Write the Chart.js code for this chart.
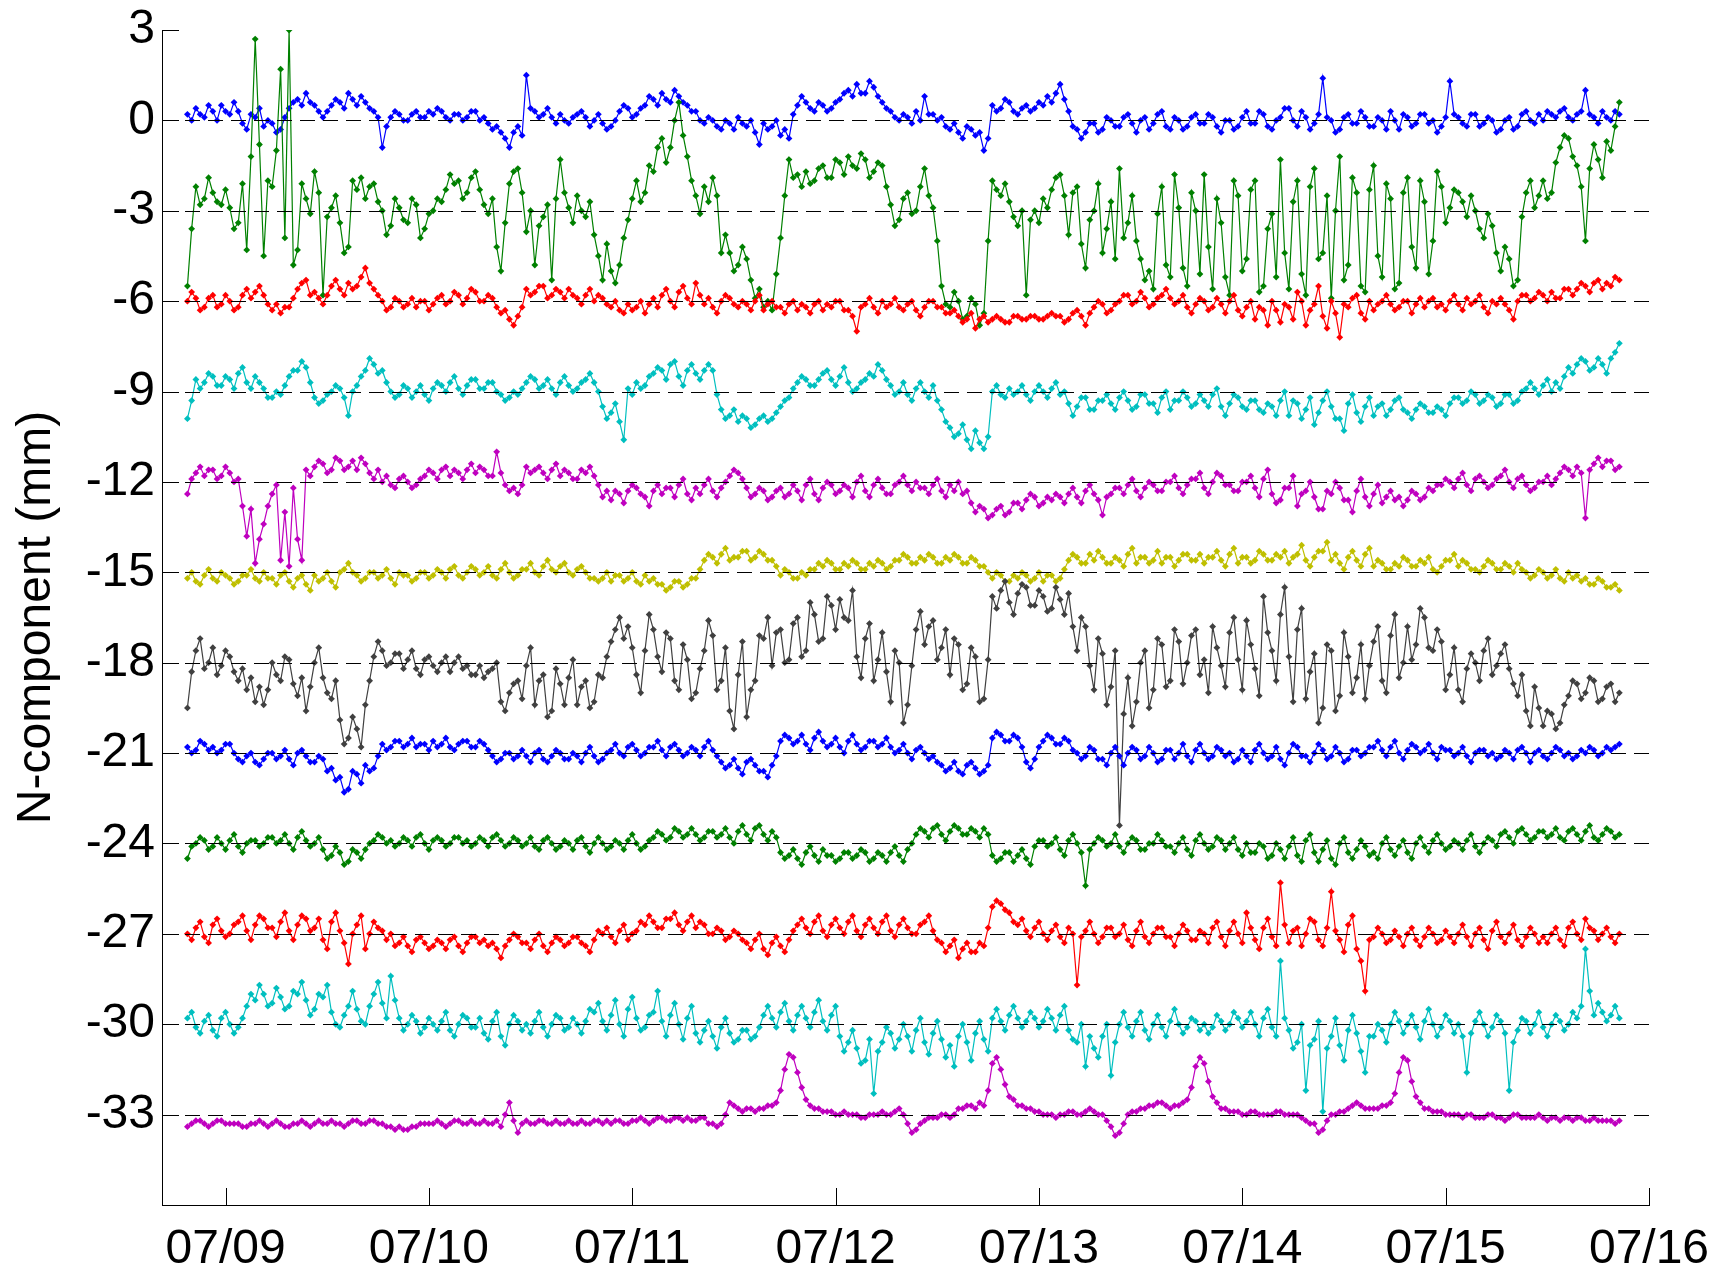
<!DOCTYPE html>
<html>
<head>
<meta charset="utf-8">
<script src="https://cdn.jsdelivr.net/npm/chart.js@4.4.1/dist/chart.umd.min.js"></script>
<style>
  html, body { margin: 0; padding: 0; background: #fff; }
  #wrap { width: 1714px; height: 1270px; }
</style>
</head>
<body>
<div id="wrap"><canvas id="c" width="1714" height="1270"></canvas></div>
<script>
// Half-hourly samples; first sample at 07/08 19:30 (hours counted from 07/08 00:00)
const firstSampleHour = 19.5;
const sampleStepHours = 0.5;

// N-component traces (mm), each shifted by a multiple of -3 mm
const trace00 = [
  0.2, 0.0, 0.4, 0.2, 0.1, 0.5, 0.3, 0.0, 0.5, 0.3, 0.2, 0.6, 0.3, -0.1, -0.3, 0.2, 0.1, 0.4, -0.2, 0.0,
  -0.1, -0.4, -0.3, 0.1, 0.4, 0.6, 0.7, 0.5, 0.9, 0.6, 0.5, 0.3, 0.1, 0.3, 0.5, 0.7, 0.6, 0.4, 0.9, 0.7,
  0.5, 0.8, 0.6, 0.4, 0.3, 0.1, -0.9, -0.2, 0.1, 0.3, 0.2, 0.0, 0.0, 0.2, 0.3, 0.1, 0.1, 0.3, 0.2, 0.4,
  0.3, 0.1, 0.0, 0.2, 0.2, 0.0, 0.1, 0.3, 0.3, 0.0, 0.1, -0.1, -0.3, -0.2, -0.4, -0.6, -0.9, -0.4, -0.2, -0.5,
  1.5, 0.4, 0.3, 0.1, 0.2, 0.4, 0.1, -0.1, 0.2, 0.0, -0.1, 0.1, 0.2, 0.3, 0.1, -0.2, 0.0, 0.2, -0.1, -0.3,
  -0.2, 0.0, 0.3, 0.5, 0.4, 0.1, 0.2, 0.4, 0.5, 0.8, 0.7, 0.5, 0.9, 0.7, 0.6, 1.0, 0.8, 0.6, 0.5, 0.3,
  0.3, 0.0, -0.1, 0.1, 0.0, -0.2, -0.3, 0.0, -0.1, -0.3, 0.1, -0.1, -0.2, 0.0, -0.4, -0.8, -0.1, -0.3, -0.2, 0.0,
  -0.5, -0.3, -0.6, 0.2, 0.5, 0.8, 0.6, 0.4, 0.3, 0.6, 0.5, 0.3, 0.4, 0.6, 0.7, 0.9, 1.0, 0.8, 1.2, 0.9,
  0.9, 1.3, 1.1, 0.8, 0.6, 0.4, 0.3, 0.1, 0.0, 0.2, 0.1, -0.1, 0.3, 0.0, 0.8, 0.2, 0.2, 0.0, 0.1, -0.2,
  -0.3, -0.1, -0.4, -0.6, -0.2, -0.3, -0.5, -0.4, -1.0, -0.6, 0.5, 0.3, 0.4, 0.7, 0.6, 0.3, 0.2, 0.4, 0.5, 0.3,
  0.4, 0.6, 0.5, 0.8, 0.6, 0.9, 1.2, 0.7, 0.3, -0.2, -0.3, -0.6, -0.4, -0.1, -0.1, -0.4, -0.3, 0.1, 0.0, -0.2,
  -0.2, 0.1, 0.2, -0.1, -0.4, 0.0, 0.1, -0.3, -0.1, 0.2, 0.3, -0.2, -0.3, 0.1, 0.0, -0.3, -0.2, 0.1, 0.2, -0.1,
  -0.1, 0.2, 0.1, -0.2, -0.4, 0.0, 0.0, -0.3, -0.2, 0.1, 0.3, -0.1, -0.1, 0.3, 0.2, -0.2, -0.3, 0.0, 0.1, 0.4,
  0.4, 0.0, -0.2, 0.3, 0.1, -0.3, -0.1, 0.2, 1.4, 0.1, 0.0, -0.4, -0.3, 0.1, 0.2, -0.1, -0.1, 0.3, 0.1, -0.2,
  -0.2, 0.1, 0.0, -0.3, 0.3, 0.0, -0.3, 0.2, 0.1, -0.2, -0.1, 0.2, 0.2, -0.1, 0.0, -0.4, -0.2, 0.1, 1.3, 0.2,
  0.1, -0.1, -0.2, 0.2, 0.2, -0.2, -0.1, 0.1, 0.0, -0.4, -0.3, 0.0, 0.1, -0.3, -0.2, 0.2, 0.3, 0.0, -0.1, 0.2,
  0.0, 0.3, 0.2, 0.1, 0.3, 0.4, 0.1, 0.0, 0.2, 0.3, 1.0, 0.2, 0.1, -0.1, 0.3, 0.1, 0.0, 0.3, 0.2
];
const trace03 = [
  -5.5, -3.6, -2.2, -2.8, -2.6, -1.9, -2.4, -2.7, -2.8, -2.3, -2.9, -3.6, -3.4, -2.1, -4.3, -1.2, 2.7, -0.8, -4.5, -2.0,
  -2.2, -1.0, 1.7, -3.9, 3.0, -4.8, -4.3, -2.1, -2.6, -3.1, -1.7, -2.4, -5.8, -3.2, -2.9, -2.5, -3.4, -4.4, -4.2, -2.0,
  -2.3, -1.9, -2.6, -2.2, -2.1, -2.7, -3.0, -3.8, -3.5, -2.6, -2.9, -3.3, -3.4, -2.6, -2.8, -3.9, -3.6, -3.1, -3.0, -2.6,
  -2.7, -2.3, -1.8, -2.1, -2.0, -2.6, -2.4, -1.9, -1.7, -2.3, -2.8, -3.1, -2.6, -4.2, -5.0, -3.4, -2.1, -1.7, -1.6, -2.4,
  -3.7, -3.0, -4.8, -3.5, -3.2, -2.8, -5.3, -2.6, -1.3, -2.4, -2.9, -3.4, -2.5, -3.0, -3.2, -2.7, -3.8, -4.5, -5.3, -4.1,
  -5.0, -5.4, -4.8, -3.9, -3.3, -2.6, -2.0, -2.7, -2.4, -1.5, -1.7, -0.9, -0.6, -1.4, -0.9, 0.0, 0.6, -0.5, -1.2, -2.0,
  -2.5, -3.1, -2.2, -2.7, -1.9, -2.5, -4.4, -3.8, -4.4, -5.0, -4.8, -4.2, -4.6, -5.3, -5.9, -5.6, -6.2, -6.0, -6.3, -5.1,
  -3.9, -2.5, -1.3, -1.9, -1.8, -2.2, -1.7, -2.1, -2.0, -1.6, -1.5, -1.9, -1.9, -1.3, -1.4, -1.8, -1.2, -1.5, -1.6, -1.1,
  -1.3, -1.9, -1.7, -1.4, -1.5, -2.2, -2.8, -3.5, -3.3, -2.6, -2.4, -3.1, -3.0, -2.2, -1.6, -2.5, -2.9, -4.0, -5.5, -6.1,
  -6.2, -5.7, -6.0, -6.6, -6.5, -5.9, -6.1, -6.8, -6.4, -4.0, -2.0, -2.3, -2.5, -2.1, -2.7, -3.2, -3.5, -3.0, -5.8, -3.3,
  -3.0, -3.4, -2.6, -2.9, -2.3, -1.9, -1.8, -2.5, -3.8, -2.4, -2.2, -4.1, -4.9, -3.3, -3.0, -2.1, -4.4, -3.6, -2.7, -4.6,
  -1.6, -3.9, -3.4, -2.5, -4.0, -4.6, -5.3, -5.0, -5.6, -3.1, -2.2, -4.8, -5.2, -1.8, -2.9, -4.9, -5.5, -2.4, -3.0, -5.1,
  -1.8, -4.2, -5.6, -2.6, -3.4, -5.2, -5.8, -2.0, -2.5, -5.0, -4.6, -2.3, -2.0, -5.7, -5.5, -3.6, -3.1, -5.2, -1.3, -4.4,
  -5.6, -2.7, -2.0, -5.1, -5.8, -2.2, -1.6, -4.6, -4.4, -2.5, -5.9, -3.0, -1.2, -5.3, -4.8, -1.9, -2.4, -5.5, -5.7, -2.3,
  -1.5, -4.5, -5.2, -2.1, -2.6, -5.6, -5.4, -2.4, -1.9, -4.2, -4.9, -2.0, -2.7, -5.1, -4.0, -1.7, -2.2, -3.4, -2.9, -2.3,
  -2.4, -2.7, -3.2, -2.5, -3.0, -3.6, -3.9, -3.1, -3.5, -4.4, -5.0, -4.2, -4.6, -5.5, -5.3, -3.2, -2.4, -2.0, -2.9, -2.5,
  -2.0, -2.6, -2.4, -1.4, -0.9, -0.5, -0.6, -1.2, -1.5, -2.2, -4.0, -1.6, -0.8, -1.3, -1.9, -0.7, -1.0, -0.2, 0.6
];
const trace06 = [
  -6.0, -5.7, -5.9, -6.3, -6.2, -5.9, -5.8, -6.2, -6.1, -5.8, -6.0, -6.3, -6.2, -5.8, -5.6, -5.9, -5.7, -5.5, -5.8, -6.1,
  -6.3, -6.1, -6.4, -6.2, -6.2, -5.9, -5.6, -5.4, -5.3, -5.8, -5.7, -5.9, -6.1, -5.8, -5.5, -5.3, -5.6, -5.8, -5.4, -5.6,
  -5.5, -5.2, -4.9, -5.4, -5.6, -5.8, -6.0, -6.3, -6.2, -5.9, -6.0, -6.2, -6.1, -5.9, -6.2, -6.0, -6.0, -6.3, -6.1, -5.9,
  -5.8, -6.1, -6.0, -5.7, -5.8, -6.1, -5.9, -5.6, -5.7, -6.0, -6.0, -5.8, -5.9, -6.2, -6.4, -6.3, -6.6, -6.8, -6.5, -6.2,
  -5.6, -5.8, -5.7, -5.5, -5.5, -5.9, -5.8, -5.6, -5.7, -5.9, -5.6, -5.8, -5.9, -6.1, -5.8, -5.6, -6.0, -5.8, -5.9, -6.1,
  -6.2, -6.0, -6.3, -6.4, -6.1, -6.3, -6.2, -6.0, -6.4, -6.1, -5.9, -6.2, -5.8, -5.6, -6.0, -6.2, -5.7, -5.5, -5.9, -6.1,
  -5.4, -5.8, -6.1, -5.9, -6.2, -6.4, -6.0, -5.8, -5.9, -6.1, -6.2, -6.0, -6.1, -6.3, -6.0, -5.8, -6.3, -6.1, -6.0, -6.2,
  -6.2, -6.4, -6.1, -6.0, -6.3, -6.1, -6.2, -6.4, -6.1, -6.0, -6.3, -6.1, -6.2, -6.0, -6.0, -6.3, -6.3, -6.5, -7.0, -6.2,
  -6.1, -5.9, -6.2, -6.4, -6.0, -6.2, -6.1, -5.9, -6.2, -6.3, -6.1, -6.0, -6.3, -6.5, -6.2, -6.0, -6.0, -6.2, -6.2, -6.4,
  -6.4, -6.3, -6.5, -6.7, -6.6, -6.4, -6.9, -6.6, -6.5, -6.7, -6.6, -6.5, -6.6, -6.7, -6.7, -6.5, -6.5, -6.6, -6.6, -6.5,
  -6.5, -6.6, -6.6, -6.5, -6.4, -6.5, -6.5, -6.7, -6.6, -6.4, -6.3, -6.5, -6.8, -6.4, -6.2, -6.0, -6.1, -6.4, -6.3, -6.1,
  -6.0, -5.8, -5.8, -6.1, -6.0, -5.7, -5.9, -6.2, -6.1, -5.9, -5.8, -5.6, -5.9, -6.1, -6.0, -5.8, -6.2, -6.4, -6.1, -5.9,
  -6.0, -6.3, -6.2, -5.9, -6.1, -6.4, -6.0, -5.8, -6.3, -6.5, -6.2, -6.0, -6.6, -6.2, -6.3, -6.8, -6.0, -6.3, -6.7, -6.1,
  -6.2, -6.6, -5.7, -6.0, -6.8, -6.3, -6.1, -5.5, -6.5, -6.9, -6.0, -6.4, -7.2, -6.1, -6.2, -5.9, -5.8, -6.4, -6.6, -6.0,
  -6.3, -6.1, -6.0, -5.8, -6.1, -6.3, -6.2, -6.0, -6.0, -6.4, -6.1, -5.9, -6.2, -6.0, -5.9, -6.2, -6.1, -6.3, -6.0, -5.8,
  -6.1, -6.3, -5.9, -6.1, -6.0, -5.8, -6.2, -6.4, -6.0, -6.1, -5.9, -6.1, -6.3, -6.6, -6.0, -5.8, -5.8, -6.0, -5.9, -5.7,
  -5.8, -6.0, -5.7, -5.9, -5.9, -5.6, -5.6, -5.8, -5.6, -5.4, -5.5, -5.7, -5.4, -5.3, -5.6, -5.4, -5.5, -5.2, -5.3
];
const trace09 = [
  -9.9, -9.3, -8.6, -8.9, -8.7, -8.4, -8.5, -8.8, -8.8, -8.5, -8.6, -8.9, -8.4, -8.2, -8.7, -8.9, -8.5, -8.7, -8.9, -9.2,
  -9.2, -9.0, -9.1, -8.8, -8.5, -8.3, -8.3, -8.0, -8.2, -8.7, -9.2, -9.4, -9.3, -9.1, -9.0, -8.8, -8.9, -9.2, -9.8, -9.0,
  -8.8, -8.5, -8.3, -7.9, -8.1, -8.4, -8.3, -8.7, -9.0, -9.2, -9.1, -8.8, -8.9, -9.2, -9.0, -8.8, -9.1, -9.3, -8.9, -8.7,
  -8.8, -9.0, -8.7, -8.5, -8.9, -9.1, -8.8, -8.6, -8.6, -8.9, -8.9, -8.7, -8.7, -9.0, -9.1, -9.3, -9.2, -9.0, -9.1, -8.9,
  -8.7, -8.5, -8.6, -8.9, -8.8, -8.6, -8.9, -9.1, -8.7, -8.5, -8.8, -9.0, -8.9, -8.7, -8.6, -8.4, -8.7, -9.0, -9.5, -9.9,
  -9.7, -9.4, -10.0, -10.6, -8.9, -9.1, -8.7, -8.9, -8.8, -8.5, -8.4, -8.2, -8.3, -8.6, -8.1, -8.0, -8.5, -8.8, -8.3, -8.1,
  -8.4, -8.6, -8.3, -8.1, -8.3, -9.1, -9.6, -9.9, -9.8, -9.6, -10.0, -9.8, -9.9, -10.2, -10.1, -9.9, -9.8, -10.0, -9.9, -9.7,
  -9.5, -9.3, -9.2, -8.9, -8.7, -8.5, -8.6, -8.8, -8.8, -8.6, -8.4, -8.3, -8.6, -8.8, -8.5, -8.2, -8.7, -9.0, -8.9, -8.7,
  -8.6, -8.4, -8.5, -8.1, -8.3, -8.6, -8.8, -9.1, -9.0, -8.7, -9.1, -9.3, -8.9, -8.7, -9.0, -9.2, -8.8, -9.3, -9.6, -10.0,
  -10.2, -10.5, -10.4, -10.1, -10.6, -10.9, -10.3, -10.7, -10.9, -10.5, -9.0, -8.8, -9.1, -9.2, -8.9, -9.1, -9.0, -8.8, -9.1, -9.3,
  -9.0, -8.8, -9.0, -9.2, -8.9, -8.7, -9.1, -9.0, -9.4, -9.8, -9.5, -9.2, -9.2, -9.6, -9.6, -9.3, -9.3, -9.1, -9.4, -9.6,
  -9.2, -9.0, -9.3, -9.6, -9.5, -9.1, -9.1, -9.4, -9.4, -9.7, -9.2, -9.0, -9.6, -9.3, -9.3, -9.0, -9.2, -9.5, -9.4, -9.1,
  -9.3, -9.5, -9.1, -8.9, -9.5, -9.8, -9.4, -9.1, -9.2, -9.5, -9.6, -9.3, -9.3, -9.6, -9.7, -9.4, -9.5, -9.8, -9.3, -9.0,
  -9.8, -9.3, -9.4, -9.9, -9.6, -9.2, -10.1, -9.7, -9.3, -9.0, -9.5, -9.9, -9.9, -10.3, -9.4, -9.1, -9.7, -10.0, -9.5, -9.2,
  -9.8, -9.5, -9.4, -9.8, -9.6, -9.3, -9.2, -9.6, -9.7, -9.9, -9.6, -9.4, -9.5, -9.7, -9.7, -9.5, -9.6, -9.8, -9.4, -9.2,
  -9.2, -9.4, -9.3, -9.0, -9.1, -9.4, -9.3, -9.1, -9.2, -9.5, -9.4, -9.1, -9.1, -9.4, -9.3, -9.0, -8.9, -8.7, -8.9, -9.1,
  -8.8, -8.6, -9.0, -8.7, -8.9, -8.5, -8.2, -8.4, -8.1, -7.9, -8.0, -8.3, -8.2, -7.9, -8.1, -8.4, -7.9, -7.7, -7.4
];
const trace12 = [
  -12.4, -11.9, -11.7, -11.5, -11.8, -11.6, -11.6, -11.9, -11.8, -11.5, -11.7, -12.0, -11.9, -12.8, -13.8, -12.9, -14.7, -13.9, -13.4, -12.8,
  -12.4, -12.1, -14.6, -13.0, -14.8, -12.2, -13.9, -14.6, -11.6, -11.8, -11.5, -11.3, -11.4, -11.7, -11.6, -11.2, -11.3, -11.6, -11.5, -11.3,
  -11.6, -11.2, -11.4, -11.7, -11.9, -11.6, -12.0, -11.8, -12.1, -12.2, -11.9, -11.8, -12.0, -12.2, -12.1, -11.9, -11.8, -11.6, -11.7, -11.9,
  -11.6, -11.5, -11.8, -11.6, -11.7, -11.9, -11.6, -11.4, -11.7, -11.5, -11.6, -11.8, -11.8, -11.0, -11.7, -12.1, -12.3, -12.2, -12.4, -12.1,
  -11.5, -11.7, -11.6, -11.5, -11.7, -11.9, -11.6, -11.4, -11.8, -11.6, -11.7, -11.9, -11.9, -11.6, -11.7, -11.5, -11.8, -12.1, -12.5, -12.3,
  -12.6, -12.3, -12.4, -12.7, -12.3, -12.1, -12.2, -12.4, -12.5, -12.8, -12.3, -12.1, -12.4, -12.2, -12.2, -12.5, -12.1, -11.9, -12.4, -12.6,
  -12.2, -12.4, -12.1, -11.9, -12.3, -12.5, -12.2, -12.0, -11.8, -11.6, -11.7, -11.9, -12.2, -12.5, -12.4, -12.2, -12.3, -12.6, -12.5, -12.3,
  -12.2, -12.5, -12.4, -12.1, -12.3, -12.6, -12.1, -11.9, -12.4, -12.6, -12.2, -12.0, -12.1, -12.4, -12.3, -12.1, -12.2, -12.5, -12.0, -11.8,
  -12.3, -12.5, -12.1, -11.9, -12.2, -12.4, -12.4, -12.1, -12.0, -11.8, -12.1, -12.3, -12.0, -12.2, -12.2, -12.4, -12.1, -11.9, -12.3, -12.5,
  -12.1, -12.3, -12.0, -12.4, -12.3, -12.7, -13.0, -12.8, -12.9, -13.2, -13.1, -12.9, -12.8, -13.1, -13.0, -12.7, -12.7, -12.9, -12.6, -12.4,
  -12.5, -12.8, -12.7, -12.5, -12.6, -12.4, -12.5, -12.7, -12.4, -12.2, -12.5, -12.7, -12.3, -12.1, -12.4, -12.6, -13.1, -12.5, -12.4, -12.2,
  -12.2, -12.4, -12.1, -11.9, -12.3, -12.5, -12.2, -12.0, -12.1, -12.3, -12.3, -12.0, -12.0, -11.8, -12.2, -12.4, -12.1, -11.9, -11.9, -11.7,
  -12.2, -12.4, -12.0, -11.7, -11.8, -12.1, -12.1, -12.3, -12.3, -12.0, -12.0, -11.8, -12.2, -12.5, -11.9, -11.6, -12.4, -12.7, -12.6, -12.2,
  -12.2, -11.8, -12.8, -12.4, -12.3, -12.0, -12.5, -12.9, -12.9, -12.3, -12.4, -12.0, -12.2, -12.6, -12.6, -13.0, -12.3, -11.9, -12.5, -12.8,
  -12.4, -12.1, -12.7, -12.5, -12.3, -12.6, -12.5, -12.8, -12.6, -12.3, -12.4, -12.6, -12.5, -12.2, -12.3, -12.1, -12.1, -11.9, -12.0, -12.2,
  -11.9, -11.7, -12.1, -12.3, -11.9, -11.8, -12.0, -12.2, -12.1, -11.9, -11.8, -11.6, -12.0, -12.2, -11.9, -11.8, -12.1, -12.3, -12.2, -12.0,
  -12.0, -11.8, -12.1, -11.9, -11.7, -11.5, -11.6, -11.8, -11.5, -11.7, -13.2, -11.6, -11.4, -11.2, -11.5, -11.3, -11.3, -11.6, -11.5
];
const trace15 = [
  -15.2, -15.0, -15.3, -15.4, -15.1, -14.9, -15.2, -15.3, -15.0, -15.1, -15.2, -15.4, -15.3, -15.1, -15.1, -14.9, -15.2, -15.3, -15.0, -15.2,
  -15.2, -15.4, -15.1, -15.0, -15.3, -15.5, -15.2, -15.1, -15.4, -15.6, -15.1, -15.3, -15.2, -15.0, -15.3, -15.5, -15.0, -14.9, -14.7, -15.0,
  -15.1, -15.3, -15.2, -15.0, -15.0, -15.2, -15.1, -14.9, -15.2, -15.4, -15.0, -15.1, -15.1, -15.3, -15.2, -15.0, -15.0, -15.2, -15.1, -14.9,
  -15.0, -15.2, -14.9, -14.8, -15.1, -15.2, -15.0, -14.8, -14.9, -15.1, -15.0, -14.8, -15.1, -15.2, -14.9, -14.7, -15.0, -15.2, -15.1, -14.9,
  -14.9, -14.7, -15.0, -15.1, -14.8, -14.6, -14.9, -15.0, -14.8, -14.7, -15.0, -15.1, -14.9, -14.8, -15.0, -15.2, -15.2, -15.3, -15.2, -15.0,
  -15.3, -15.1, -15.1, -15.3, -15.2, -15.0, -15.3, -15.4, -15.1, -15.3, -15.2, -15.4, -15.4, -15.6, -15.5, -15.3, -15.3, -15.5, -15.4, -15.2,
  -15.2, -14.9, -14.6, -14.4, -14.5, -14.7, -14.4, -14.2, -14.6, -14.5, -14.5, -14.3, -14.3, -14.6, -14.5, -14.3, -14.4, -14.6, -14.6, -14.8,
  -15.1, -14.9, -15.0, -15.2, -15.2, -15.0, -15.1, -14.9, -14.9, -14.7, -14.8, -14.6, -14.7, -14.9, -14.9, -14.7, -14.8, -14.6, -14.7, -14.9,
  -14.9, -14.7, -14.8, -14.6, -14.7, -14.9, -14.8, -14.6, -14.6, -14.4, -14.5, -14.7, -14.7, -14.5, -14.6, -14.4, -14.5, -14.7, -14.7, -14.5,
  -14.6, -14.4, -14.5, -14.7, -14.7, -14.5, -14.6, -14.8, -14.8, -15.0, -15.2, -15.0, -15.1, -15.3, -15.3, -15.1, -15.2, -15.0, -15.1, -15.3,
  -15.2, -15.0, -15.3, -15.1, -15.1, -15.3, -15.2, -14.9, -14.6, -14.4, -14.5, -14.7, -14.7, -14.4, -14.6, -14.3, -14.5, -14.7, -14.7, -14.5,
  -14.6, -14.8, -14.4, -14.2, -14.7, -14.5, -14.5, -14.7, -14.6, -14.3, -14.7, -14.5, -14.5, -14.8, -14.6, -14.4, -14.4, -14.6, -14.6, -14.4,
  -14.7, -14.5, -14.5, -14.3, -14.6, -14.8, -14.4, -14.2, -14.7, -14.5, -14.5, -14.7, -14.6, -14.3, -14.4, -14.6, -14.6, -14.4, -14.5, -14.3,
  -14.7, -14.5, -14.4, -14.1, -14.6, -14.8, -14.5, -14.3, -14.3, -14.0, -14.6, -14.4, -14.7, -14.9, -14.5, -14.3, -14.6, -14.8, -14.4, -14.2,
  -14.8, -14.6, -14.7, -14.9, -14.9, -14.7, -14.8, -14.5, -14.6, -14.8, -14.8, -14.6, -14.7, -14.5, -14.9, -15.0, -14.8, -14.6, -14.6, -14.4,
  -14.8, -14.6, -14.7, -14.9, -14.9, -15.0, -14.8, -14.6, -14.7, -14.9, -14.9, -14.7, -14.8, -15.0, -14.7, -14.9, -15.0, -15.2, -15.1, -14.9,
  -15.0, -15.2, -15.1, -14.9, -15.2, -15.3, -15.0, -15.2, -15.1, -15.3, -15.2, -15.4, -15.4, -15.2, -15.3, -15.5, -15.5, -15.4, -15.6
];
const trace18 = [
  -19.5, -18.3, -17.6, -17.2, -18.2, -18.0, -17.5, -18.4, -18.1, -17.6, -17.8, -18.3, -18.6, -18.2, -18.9, -18.5, -19.3, -18.8, -19.4, -18.9,
  -18.0, -18.4, -18.6, -17.8, -17.9, -18.7, -19.1, -18.5, -19.6, -18.8, -18.0, -17.5, -18.5, -19.0, -19.2, -18.6, -19.9, -20.7, -20.5, -19.8,
  -20.2, -20.8, -19.4, -18.6, -17.8, -17.3, -17.6, -18.1, -18.0, -17.7, -17.7, -18.2, -17.9, -17.6, -18.2, -18.4, -17.9, -17.8, -18.1, -18.3,
  -18.0, -17.8, -18.3, -18.0, -17.8, -18.2, -18.1, -18.4, -18.4, -18.1, -18.5, -18.3, -18.2, -18.0, -19.3, -19.6, -19.0, -18.7, -18.6, -19.2,
  -18.1, -17.5, -19.4, -18.6, -18.4, -19.8, -19.6, -18.2, -18.7, -19.4, -18.5, -17.9, -19.4, -18.8, -18.6, -19.5, -19.3, -18.4, -18.5, -17.8,
  -17.3, -16.9, -16.5, -17.2, -16.8, -17.5, -18.4, -19.0, -17.6, -16.4, -16.9, -17.8, -18.3, -17.0, -17.2, -18.6, -18.9, -17.4, -17.9, -19.2,
  -19.0, -18.2, -17.6, -16.6, -17.1, -18.9, -18.6, -17.5, -19.6, -20.2, -18.4, -17.3, -19.8, -18.9, -18.6, -17.1, -17.2, -16.5, -18.1, -17.0,
  -16.9, -18.0, -17.9, -16.7, -16.5, -17.8, -17.6, -16.0, -16.4, -17.3, -17.2, -15.8, -16.1, -16.9, -15.9, -16.5, -16.6, -15.6, -17.8, -18.5,
  -17.2, -16.7, -18.6, -17.9, -17.0, -18.3, -19.3, -17.6, -18.0, -20.0, -19.4, -18.1, -16.9, -16.3, -17.4, -16.8, -16.6, -17.9, -17.5, -16.9,
  -18.4, -17.2, -17.4, -18.9, -18.7, -17.5, -17.8, -19.3, -19.2, -17.9, -15.8, -16.2, -15.6, -15.3, -16.0, -16.4, -15.7, -15.4, -15.5, -16.1,
  -16.1, -15.6, -15.8, -16.3, -16.2, -15.5, -15.9, -16.4, -15.7, -16.8, -17.6, -16.5, -16.8, -18.1, -18.9, -17.2, -17.7, -19.4, -18.8, -17.6,
  -23.4, -19.7, -18.5, -20.1, -19.3, -18.0, -17.6, -19.5, -18.9, -17.2, -17.4, -18.8, -18.6, -16.9, -17.3, -18.7, -18.0, -17.1, -16.9, -18.4,
  -17.9, -19.0, -16.8, -17.5, -18.1, -18.8, -17.0, -16.5, -17.9, -18.9, -16.6, -17.4, -18.2, -19.1, -15.8, -17.0, -17.6, -18.6, -16.4, -15.5,
  -17.8, -19.3, -16.9, -16.2, -19.2, -18.3, -17.7, -20.0, -19.5, -17.4, -17.6, -19.6, -19.1, -17.0, -17.8, -19.0, -18.5, -17.4, -19.2, -18.1,
  -17.3, -16.8, -18.6, -19.0, -17.1, -16.4, -18.5, -18.0, -16.8, -17.9, -17.4, -16.2, -16.5, -17.5, -17.6, -16.9, -17.3, -18.9, -18.4, -17.5,
  -18.9, -19.3, -18.2, -17.7, -18.0, -18.6, -17.6, -17.2, -18.4, -18.1, -17.7, -17.4, -18.2, -18.7, -19.1, -18.4, -19.6, -20.1, -18.8, -19.5,
  -20.1, -19.6, -19.7, -20.2, -20.0, -19.4, -19.1, -18.6, -18.7, -19.2, -19.0, -18.5, -18.6, -19.3, -19.2, -18.8, -18.7, -19.3, -19.0
];
const trace21 = [
  -20.8, -21.0, -20.9, -20.6, -20.7, -20.9, -20.8, -21.0, -20.9, -20.7, -20.7, -21.0, -21.2, -21.3, -21.1, -21.0, -21.3, -21.4, -21.2, -21.0,
  -21.0, -21.2, -21.1, -20.9, -21.2, -21.4, -21.0, -20.9, -21.1, -21.3, -21.3, -21.1, -21.2, -21.6, -21.5, -21.9, -21.8, -22.3, -22.2, -21.6,
  -21.7, -22.0, -21.4, -21.6, -21.5, -21.1, -20.7, -20.9, -20.8, -20.6, -20.6, -20.8, -20.7, -20.5, -20.8, -20.7, -20.7, -20.9, -20.6, -20.8,
  -20.7, -20.5, -20.8, -20.9, -20.7, -20.6, -20.6, -20.8, -20.8, -20.6, -20.7, -20.9, -21.1, -21.3, -21.2, -21.0, -21.0, -21.2, -21.1, -20.9,
  -21.1, -21.3, -21.0, -20.9, -21.2, -21.3, -21.1, -20.9, -21.0, -21.2, -21.2, -21.0, -21.1, -21.3, -21.0, -20.8, -21.1, -21.3, -21.2, -21.0,
  -20.9, -20.7, -21.0, -21.1, -20.8, -20.7, -20.9, -21.1, -21.0, -20.8, -20.8, -20.6, -20.9, -21.1, -20.8, -20.7, -20.9, -21.1, -21.0, -20.8,
  -20.9, -21.1, -20.8, -20.6, -20.9, -21.1, -21.3, -21.5, -21.4, -21.2, -21.5, -21.7, -21.3, -21.2, -21.4, -21.6, -21.6, -21.8, -21.4, -21.1,
  -20.6, -20.4, -20.5, -20.7, -20.6, -20.4, -20.7, -20.9, -20.5, -20.3, -20.6, -20.8, -20.7, -20.5, -20.8, -21.0, -20.6, -20.4, -20.7, -20.9,
  -20.8, -20.6, -20.6, -20.8, -20.7, -20.5, -20.8, -21.0, -20.9, -20.7, -21.0, -21.2, -20.9, -20.8, -21.0, -21.2, -21.1, -21.3, -21.4, -21.6,
  -21.5, -21.3, -21.6, -21.7, -21.4, -21.3, -21.5, -21.7, -21.6, -21.4, -20.5, -20.3, -20.4, -20.6, -20.6, -20.4, -20.5, -20.8, -21.3, -21.5,
  -21.2, -20.8, -20.6, -20.4, -20.5, -20.7, -20.7, -20.5, -20.6, -20.9, -21.0, -21.2, -21.1, -20.8, -20.9, -21.2, -21.2, -21.4, -21.0, -20.8,
  -21.1, -21.4, -21.0, -20.8, -20.9, -21.2, -21.1, -20.8, -21.0, -21.3, -21.2, -20.9, -20.9, -21.2, -21.0, -20.7, -21.1, -21.3, -20.9, -20.7,
  -21.0, -21.2, -21.1, -20.8, -20.9, -21.1, -21.0, -21.3, -21.2, -20.9, -21.1, -21.3, -20.9, -20.7, -21.0, -21.2, -21.1, -20.8, -21.2, -21.4,
  -21.0, -20.7, -20.8, -21.1, -21.1, -21.3, -21.0, -20.7, -20.9, -21.2, -21.1, -20.8, -21.0, -21.3, -21.2, -20.9, -20.9, -21.1, -21.0, -20.8,
  -20.8, -20.6, -20.9, -21.1, -20.8, -20.6, -21.0, -21.2, -20.9, -20.7, -20.8, -21.0, -20.9, -20.7, -21.0, -21.2, -20.8, -20.9, -20.9, -21.1,
  -21.0, -20.8, -21.1, -21.3, -21.0, -20.9, -20.9, -21.1, -21.0, -21.2, -21.1, -20.9, -21.0, -21.2, -20.9, -20.8, -21.0, -21.3, -21.0, -20.9,
  -21.1, -21.2, -21.0, -20.8, -20.9, -21.1, -21.0, -21.2, -21.1, -20.9, -21.0, -20.8, -20.9, -21.1, -21.0, -20.8, -20.9, -20.8, -20.7
];
const trace24 = [
  -24.5, -24.1, -24.0, -23.8, -23.9, -24.2, -24.1, -23.8, -24.0, -24.2, -23.9, -23.7, -24.1, -24.3, -24.0, -23.9, -23.9, -24.1, -24.0, -23.8,
  -23.8, -24.0, -23.9, -23.7, -24.0, -24.2, -23.8, -23.6, -23.9, -24.1, -24.0, -23.8, -24.2, -24.5, -24.4, -24.1, -24.3, -24.7, -24.6, -24.2,
  -24.3, -24.5, -24.2, -24.0, -23.9, -23.7, -23.8, -24.0, -23.9, -24.1, -24.0, -23.8, -23.9, -24.1, -23.8, -23.7, -24.0, -24.2, -23.9, -23.8,
  -23.9, -24.1, -24.0, -23.8, -23.8, -24.0, -23.9, -24.1, -24.0, -23.8, -23.9, -24.1, -23.8, -23.7, -23.9, -24.1, -24.0, -23.8, -23.9, -24.1,
  -24.0, -23.8, -24.1, -24.2, -23.9, -23.8, -24.0, -24.2, -24.1, -23.9, -24.0, -24.2, -23.9, -23.8, -24.1, -24.3, -24.0, -23.8, -24.0, -24.2,
  -24.1, -23.9, -24.0, -24.2, -23.9, -23.7, -24.0, -24.2, -24.1, -23.9, -23.8, -23.6, -23.7, -23.9, -23.8, -23.5, -23.6, -23.8, -23.7, -23.5,
  -23.7, -23.9, -23.8, -23.6, -23.6, -23.8, -23.7, -23.5, -23.8, -24.0, -23.6, -23.4, -23.7, -23.9, -23.5, -23.4, -23.7, -23.9, -23.6, -23.8,
  -24.3, -24.5, -24.4, -24.2, -24.5, -24.7, -24.3, -24.1, -24.4, -24.6, -24.2, -24.4, -24.4, -24.6, -24.5, -24.3, -24.3, -24.5, -24.4, -24.2,
  -24.3, -24.6, -24.5, -24.3, -24.4, -24.6, -24.3, -24.1, -24.4, -24.6, -24.2, -24.0, -23.7, -23.5, -23.6, -23.8, -23.5, -23.4, -23.7, -23.9,
  -23.6, -23.4, -23.5, -23.7, -23.7, -23.5, -23.6, -23.8, -23.5, -23.7, -24.4, -24.6, -24.5, -24.3, -24.3, -24.6, -24.4, -24.2, -24.5, -24.7,
  -24.1, -23.9, -23.9, -24.1, -24.0, -23.8, -24.2, -24.4, -23.9, -23.7, -24.0, -24.3, -25.4, -24.2, -24.0, -23.8, -23.9, -24.1, -24.0, -23.7,
  -24.1, -24.3, -24.0, -23.8, -23.9, -24.2, -24.2, -24.0, -24.0, -23.7, -23.9, -24.1, -24.1, -24.3, -24.0, -23.8, -24.2, -24.4, -23.9, -23.7,
  -24.0, -24.2, -24.1, -23.8, -23.9, -24.2, -24.0, -23.8, -24.2, -24.4, -24.0, -24.3, -24.3, -24.0, -24.1, -24.5, -24.4, -24.0, -24.2, -24.5,
  -24.1, -23.8, -24.4, -24.6, -23.9, -23.7, -24.3, -24.6, -24.2, -23.9, -24.5, -24.7, -24.0, -23.8, -24.3, -24.5, -24.2, -23.9, -24.1, -24.4,
  -24.3, -24.5, -24.0, -23.8, -24.2, -24.4, -24.1, -23.9, -24.3, -24.5, -24.0, -23.8, -24.1, -24.3, -23.9, -23.7, -24.0, -24.2, -24.1, -23.9,
  -24.0, -24.2, -23.9, -23.7, -24.1, -24.3, -24.0, -23.8, -23.9, -24.1, -23.7, -23.6, -23.8, -24.0, -23.6, -23.5, -23.7, -23.9, -23.8, -23.6,
  -23.6, -23.8, -23.7, -23.5, -23.8, -23.9, -23.6, -23.5, -23.7, -23.9, -23.6, -23.4, -23.8, -23.9, -23.7, -23.5, -23.6, -23.8, -23.7
];
const trace27 = [
  -27.0, -27.2, -26.8, -26.6, -27.1, -27.3, -26.7, -26.5, -26.9, -27.1, -27.0, -26.7, -26.6, -26.4, -26.9, -27.2, -26.7, -26.4, -26.5, -26.8,
  -26.8, -27.1, -26.6, -26.3, -26.9, -27.2, -26.7, -26.4, -26.5, -26.9, -26.8, -26.5, -27.2, -27.5, -26.6, -26.3, -26.9, -27.3, -28.0, -27.0,
  -26.7, -26.4, -27.5, -27.0, -26.6, -26.8, -26.9, -27.2, -27.0, -27.4, -27.3, -27.1, -27.4, -27.6, -27.2, -27.1, -27.3, -27.5, -27.4, -27.2,
  -27.3, -27.5, -27.2, -27.1, -27.4, -27.6, -27.3, -27.1, -27.1, -27.3, -27.2, -27.4, -27.3, -27.5, -27.8, -27.4, -27.2, -27.0, -27.1, -27.3,
  -27.3, -27.5, -27.2, -27.0, -27.4, -27.6, -27.3, -27.1, -27.2, -27.4, -27.3, -27.1, -27.1, -27.3, -27.4, -27.6, -27.2, -26.9, -27.0, -26.8,
  -27.1, -27.3, -26.9, -26.7, -27.2, -27.0, -26.9, -26.6, -26.7, -26.4, -26.6, -26.8, -26.8, -26.5, -26.5, -26.3, -26.7, -26.9, -26.6, -26.4,
  -26.8, -26.6, -26.7, -27.0, -27.0, -26.8, -26.9, -27.2, -27.1, -26.9, -27.0, -27.2, -27.3, -27.5, -27.2, -27.0, -27.5, -27.7, -27.3, -27.1,
  -27.4, -27.6, -27.2, -26.9, -26.7, -26.5, -26.8, -27.0, -26.6, -26.4, -26.9, -27.1, -26.7, -26.5, -26.8, -27.0, -26.6, -26.4, -26.9, -27.1,
  -26.7, -26.5, -26.8, -27.0, -26.6, -26.4, -26.9, -27.1, -26.7, -26.5, -26.8, -27.0, -27.0, -26.7, -26.6, -26.4, -26.9, -27.2, -27.3, -27.6,
  -27.4, -27.2, -27.8, -27.5, -27.3, -27.6, -27.6, -27.3, -27.4, -26.8, -26.1, -25.9, -26.0, -26.2, -26.3, -26.6, -26.7, -26.5, -26.9, -27.1,
  -26.8, -26.6, -27.0, -27.2, -26.9, -26.7, -27.1, -27.3, -26.8, -27.0, -28.7, -27.1, -26.9, -26.6, -27.0, -27.3, -27.1, -26.8, -26.8, -27.1,
  -27.0, -26.7, -27.2, -27.4, -26.9, -26.6, -27.1, -27.3, -27.0, -26.8, -26.8, -27.1, -27.1, -27.4, -27.0, -26.7, -26.9, -27.2, -27.2, -26.9,
  -27.0, -27.3, -26.8, -26.6, -27.1, -27.4, -26.9, -26.6, -27.0, -27.3, -26.3, -26.8, -27.2, -27.5, -26.8, -26.5, -27.1, -27.4, -25.3, -26.7,
  -27.3, -26.9, -26.8, -27.4, -27.0, -26.5, -26.6, -27.2, -27.4, -26.8, -25.6, -26.9, -27.2, -27.6, -26.7, -26.4, -27.5, -27.9, -28.9, -27.2,
  -27.1, -26.8, -27.0, -27.3, -27.2, -26.9, -27.1, -27.4, -27.0, -26.8, -27.2, -27.4, -27.1, -26.8, -27.0, -27.3, -27.2, -26.9, -27.1, -27.3,
  -27.0, -26.7, -27.1, -27.4, -27.0, -26.8, -27.2, -27.5, -26.9, -26.6, -27.1, -27.3, -27.0, -26.7, -27.2, -27.4, -27.1, -26.8, -27.0, -27.3,
  -27.1, -27.3, -27.0, -26.8, -27.2, -27.4, -26.8, -26.6, -27.0, -27.2, -26.5, -26.8, -26.9, -27.2, -27.0, -26.8, -27.1, -27.3, -27.0
];
const trace30 = [
  -29.8, -29.6, -30.1, -30.3, -29.9, -29.7, -30.2, -30.4, -29.8, -29.6, -30.0, -30.3, -30.1, -29.8, -29.4, -29.0, -29.2, -28.7, -29.0, -29.4,
  -29.3, -28.8, -29.1, -29.5, -29.4, -28.9, -29.0, -28.6, -29.2, -29.7, -29.5, -29.0, -29.1, -28.7, -29.6, -30.0, -30.1, -29.7, -29.4, -28.9,
  -29.5, -29.9, -30.0, -29.4, -29.0, -28.6, -29.3, -29.8, -28.4, -29.2, -29.8, -30.2, -30.0, -29.7, -29.9, -30.3, -30.1, -29.8, -30.0, -30.2,
  -29.9, -29.6, -30.2, -30.4, -30.0, -29.7, -29.8, -30.1, -30.1, -29.8, -30.3, -30.5, -29.9, -29.6, -30.4, -30.7, -30.0, -29.7, -29.9, -30.2,
  -30.0, -30.3, -29.9, -29.6, -30.1, -30.4, -30.0, -29.7, -29.8, -30.2, -30.1, -29.8, -30.0, -30.3, -29.9, -29.5, -29.6, -29.3, -29.9, -30.2,
  -29.7, -29.2, -30.0, -30.4, -29.5, -29.1, -29.8, -30.2, -30.1, -29.7, -29.6, -28.9, -29.9, -30.4, -29.7, -29.3, -30.0, -30.5, -29.8, -29.4,
  -30.3, -30.6, -30.2, -29.9, -30.4, -30.8, -30.1, -29.8, -30.3, -30.6, -30.5, -30.2, -30.2, -30.5, -30.4, -30.1, -29.7, -29.4, -29.8, -30.1,
  -29.6, -29.3, -29.9, -30.2, -29.7, -29.4, -29.8, -30.1, -29.6, -29.2, -29.9, -30.2, -29.7, -29.4, -30.4, -30.9, -30.6, -30.2, -30.8, -31.3,
  -31.2, -30.5, -32.3, -30.9, -30.6, -30.1, -30.3, -30.8, -30.5, -30.0, -30.4, -30.9, -30.2, -29.8, -30.6, -31.0, -30.3, -29.9, -30.5, -31.1,
  -30.7, -31.4, -30.4, -30.0, -30.6, -31.2, -30.3, -29.9, -30.5, -30.9, -29.8, -29.5, -29.9, -30.2, -29.7, -29.4, -29.8, -30.1, -29.9, -29.6,
  -29.8, -30.1, -29.9, -29.5, -29.8, -30.2, -29.7, -29.4, -30.2, -30.5, -30.6, -30.0, -31.4, -30.4, -30.8, -31.1, -30.4, -30.0, -31.7, -30.6,
  -30.0, -29.6, -30.1, -30.4, -29.9, -29.6, -30.2, -30.5, -30.0, -29.7, -30.1, -30.4, -29.9, -29.5, -30.0, -30.3, -30.1, -29.8, -29.9, -30.2,
  -30.0, -30.3, -30.1, -29.7, -29.9, -30.2, -30.0, -29.6, -29.8, -30.1, -29.9, -29.6, -30.0, -30.4, -29.8, -29.5, -30.1, -30.4, -27.9, -29.8,
  -30.2, -30.8, -30.6, -30.0, -32.2, -30.7, -30.5, -29.9, -32.9, -30.8, -30.4, -29.8, -30.7, -31.2, -30.2, -29.7, -30.3, -30.9, -31.6, -30.4,
  -30.4, -30.0, -30.2, -30.6, -30.0, -29.6, -29.9, -30.3, -30.0, -29.7, -30.1, -30.5, -29.9, -29.5, -30.0, -30.4, -30.1, -29.7, -29.9, -30.3,
  -30.0, -30.4, -31.6, -30.3, -29.9, -29.6, -30.0, -30.4, -30.1, -29.7, -29.9, -30.3, -32.2, -30.6, -30.2, -29.8, -29.9, -30.3, -30.0, -29.6,
  -30.1, -30.4, -30.0, -29.7, -29.9, -30.2, -30.0, -29.6, -29.8, -29.4, -27.5, -28.9, -29.7, -29.3, -29.6, -29.9, -29.7, -29.4, -29.8
];
const trace33 = [
  -33.4, -33.3, -33.2, -33.2, -33.3, -33.4, -33.3, -33.2, -33.2, -33.3, -33.3, -33.3, -33.3, -33.4, -33.4, -33.3, -33.3, -33.2, -33.3, -33.4,
  -33.3, -33.2, -33.3, -33.4, -33.4, -33.3, -33.3, -33.2, -33.3, -33.4, -33.3, -33.2, -33.3, -33.3, -33.2, -33.3, -33.3, -33.4, -33.3, -33.2,
  -33.2, -33.3, -33.3, -33.2, -33.2, -33.3, -33.3, -33.4, -33.4, -33.5, -33.4, -33.5, -33.5, -33.4, -33.4, -33.3, -33.3, -33.3, -33.3, -33.2,
  -33.3, -33.4, -33.3, -33.2, -33.2, -33.3, -33.3, -33.2, -33.3, -33.3, -33.2, -33.3, -33.3, -33.2, -33.4, -33.0, -32.6, -33.2, -33.6, -33.3,
  -33.2, -33.3, -33.3, -33.2, -33.2, -33.3, -33.3, -33.2, -33.3, -33.3, -33.2, -33.3, -33.3, -33.2, -33.3, -33.3, -33.2, -33.2, -33.3, -33.2,
  -33.3, -33.2, -33.2, -33.3, -33.3, -33.2, -33.2, -33.1, -33.2, -33.3, -33.2, -33.1, -33.1, -33.2, -33.2, -33.1, -33.1, -33.2, -33.1, -33.2,
  -33.2, -33.1, -33.1, -33.3, -33.3, -33.4, -33.3, -33.0, -32.6, -32.7, -32.8, -32.9, -32.8, -32.8, -32.9, -32.8, -32.8, -32.7, -32.7, -32.6,
  -32.2, -31.5, -31.0, -31.1, -31.6, -32.1, -32.5, -32.7, -32.8, -32.8, -32.9, -32.9, -32.9, -33.0, -33.0, -32.9, -33.0, -33.0, -33.0, -33.1,
  -33.1, -33.0, -33.0, -33.0, -32.9, -33.0, -33.0, -32.9, -32.8, -33.0, -33.3, -33.6, -33.5, -33.3, -33.2, -33.1, -33.1, -33.1, -33.0, -33.0,
  -33.1, -33.0, -32.8, -32.8, -32.7, -32.7, -32.8, -32.6, -32.7, -32.2, -31.3, -31.1, -31.5, -32.0, -32.4, -32.5, -32.7, -32.7, -32.8, -32.8,
  -32.9, -32.9, -33.0, -33.0, -33.0, -33.1, -33.0, -33.0, -32.9, -32.9, -33.0, -33.0, -32.9, -32.8, -32.9, -33.0, -33.0, -33.2, -33.4, -33.7,
  -33.6, -33.3, -33.0, -32.9, -32.9, -32.8, -32.8, -32.7, -32.7, -32.6, -32.6, -32.7, -32.8, -32.7, -32.7, -32.6, -32.5, -32.1, -31.4, -31.1,
  -31.3, -31.9, -32.4, -32.6, -32.8, -32.8, -32.9, -32.9, -32.9, -33.0, -33.0, -32.9, -32.9, -33.0, -33.0, -33.0, -33.0, -32.9, -32.9, -33.0,
  -33.0, -33.0, -33.0, -33.1, -33.2, -33.3, -33.3, -33.6, -33.5, -33.2, -33.0, -33.0, -32.9, -32.9, -32.8, -32.7, -32.6, -32.7, -32.8, -32.8,
  -32.8, -32.8, -32.7, -32.7, -32.6, -32.3, -31.6, -31.1, -31.2, -31.9, -32.4, -32.6, -32.8, -32.8, -32.9, -32.9, -32.9, -33.0, -33.0, -33.0,
  -33.0, -33.1, -33.0, -33.0, -33.1, -33.1, -33.1, -33.0, -33.0, -33.1, -33.1, -33.2, -33.1, -33.0, -33.0, -33.1, -33.1, -33.1, -33.1, -33.0,
  -33.1, -33.2, -33.1, -33.1, -33.2, -33.1, -33.1, -33.2, -33.1, -33.1, -33.2, -33.2, -33.1, -33.2, -33.2, -33.2, -33.2, -33.3, -33.2
];

// Axis ticks: days counted from 07/08 00:00
const tickDays = [1, 2, 3, 4, 5, 6, 7, 8];
const tickLabels = ['07/09', '07/10', '07/11', '07/12', '07/13', '07/14', '07/15', '07/16'];
const yTickValues = [3, 0, -3, -6, -9, -12, -15, -18, -21, -24, -27, -30, -33];
const dashedLevels = [0, -3, -6, -9, -12, -15, -18, -21, -24, -27, -30, -33];

const seriesColors = ['#0000ff', '#008000', '#ff0000', '#00bfbf', '#bf00bf', '#bfbf00',
                      '#404040', '#0000ff', '#008000', '#ff0000', '#00bfbf', '#bf00bf'];

const traces = [trace00, trace03, trace06, trace09, trace12, trace15,
                trace18, trace21, trace24, trace27, trace30, trace33];

const sampleDay = j => (firstSampleHour + j * sampleStepHours) / 24;

const FONT = "'Liberation Sans', Arial, Helvetica, sans-serif";
const FONT_SIZE = 48;

// Dashed reference lines at each offset level, drawn above the traces
const referenceLines = {
  id: 'referenceLines',
  afterDatasetsDraw(chart) {
    const { ctx, chartArea, scales: { y } } = chart;
    ctx.save();
    ctx.strokeStyle = '#000';
    ctx.lineWidth = 1;
    ctx.setLineDash([15, 8]);
    dashedLevels.forEach(v => {
      const py = Math.round(y.getPixelForValue(v)) + 0.5;
      ctx.beginPath();
      ctx.moveTo(chartArea.left, py);
      ctx.lineTo(chartArea.right, py);
      ctx.stroke();
    });
    ctx.restore();
  }
};

// Tick marks pointing into the plot area
const inwardTicks = {
  id: 'inwardTicks',
  afterDraw(chart) {
    const { ctx, chartArea, scales: { x, y } } = chart;
    const len = 17;
    ctx.save();
    ctx.strokeStyle = '#000';
    ctx.lineWidth = 1;
    ctx.setLineDash([]);
    ctx.beginPath();
    y.ticks.forEach(t => {
      const py = Math.round(y.getPixelForValue(t.value)) + 0.5;
      ctx.moveTo(chartArea.left, py);
      ctx.lineTo(chartArea.left + len, py);
    });
    x.ticks.forEach(t => {
      const px = Math.round(x.getPixelForValue(t.value)) + 0.5;
      ctx.moveTo(px, chartArea.bottom);
      ctx.lineTo(px, chartArea.bottom - len);
    });
    ctx.stroke();
    ctx.restore();
  }
};

new Chart(document.getElementById('c'), {
  type: 'line',
  data: {
    datasets: traces.map((vals, i) => ({
      data: vals.map((v, j) => ({ x: sampleDay(j), y: v })),
      borderColor: seriesColors[i],
      backgroundColor: seriesColors[i],
      borderWidth: 1.2,
      pointStyle: 'rectRot',
      pointRadius: 3.4,
      pointBorderWidth: 0,
      pointBackgroundColor: seriesColors[i],
      tension: 0,
      order: traces.length - i
    }))
  },
  options: {
    responsive: false,
    animation: false,
    devicePixelRatio: 1,
    layout: { padding: { left: 0, top: 30, right: 65, bottom: 0 } },
    plugins: { legend: { display: false }, tooltip: { enabled: false } },
    scales: {
      x: {
        type: 'linear',
        min: 16.5 / 24,
        max: 8,
        afterBuildTicks: s => { s.ticks = tickDays.map(v => ({ value: v })); },
        afterFit: s => { s.height = 65; s.paddingLeft = 0; s.paddingRight = 0; },
        grid: { display: false, drawTicks: false },
        border: { display: true, color: '#000', width: 1 },
        ticks: {
          autoSkip: false, maxRotation: 0, minRotation: 0, padding: 16,
          color: '#000', font: { family: FONT, size: FONT_SIZE },
          callback: v => { const k = tickDays.indexOf(v); return k >= 0 ? tickLabels[k] : ''; }
        }
      },
      y: {
        min: -36,
        max: 3,
        afterBuildTicks: s => { s.ticks = yTickValues.map(v => ({ value: v })); },
        afterFit: s => { s.width = 162; s.paddingTop = 0; s.paddingBottom = 0; },
        grid: { display: false, drawTicks: false },
        border: { display: true, color: '#000', width: 1 },
        ticks: {
          padding: 7, color: '#000', font: { family: FONT, size: FONT_SIZE },
          callback: v => String(v)
        },
        title: {
          display: true, text: 'N-component (mm)', color: '#000',
          font: { family: FONT, size: FONT_SIZE }, padding: { top: 8, bottom: 0 }
        }
      }
    }
  },
  plugins: [referenceLines, inwardTicks]
});
</script>
</body>
</html>
